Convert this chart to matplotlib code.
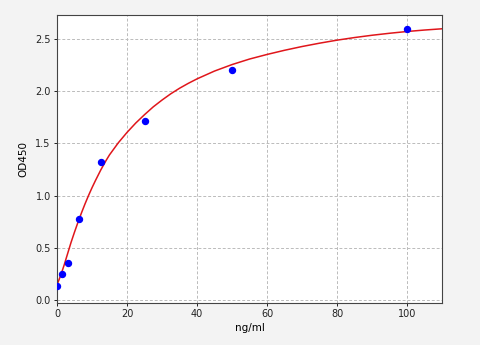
import matplotlib
matplotlib.use("Agg")
import matplotlib.pyplot as plt
from matplotlib.patches import Rectangle

# standard points (concentration, OD)
conc = [0, 1.56, 3.125, 6.25, 12.5, 25, 50, 100]
od = [0.134, 0.246, 0.354, 0.779, 1.325, 1.718, 2.20, 2.60]

# fitted curve
curve_x = [0, 1, 2, 3, 4, 5, 6, 7, 8, 9, 10, 11, 12.5, 14, 15, 17.5, 20,
           22.5, 25, 27.5, 30, 32.5, 35, 37.5, 40, 45, 50, 55, 60, 65, 70,
           75, 80, 85, 90, 95, 100, 105, 110]
curve_y = [0.145, 0.23, 0.33, 0.44, 0.55, 0.65, 0.745, 0.835, 0.92, 1.00,
           1.075, 1.145, 1.245, 1.335, 1.39, 1.505, 1.605, 1.695, 1.775,
           1.85, 1.915, 1.975, 2.028, 2.075, 2.118, 2.193, 2.255, 2.308,
           2.352, 2.392, 2.428, 2.46, 2.489, 2.514, 2.536, 2.555, 2.572,
           2.586, 2.598]

x_ticks = [0, 20, 40, 60, 80, 100]
y_ticks = [0.0, 0.5, 1.0, 1.5, 2.0, 2.5]

fig = plt.figure(figsize=(4.98, 3.45), dpi=100, facecolor="#f3f3f3")
# white strip on the right edge of the image
fig.patches.append(Rectangle((480 / 498, 0), 18 / 498, 1, transform=fig.transFigure,
                             facecolor="white", edgecolor="none", zorder=0))

ax = fig.add_axes([0.1145, 0.1226, 0.7731, 0.8348])
ax.set_facecolor("white")

ax.plot(curve_x, curve_y, color="#e0161b", linewidth=1.1, zorder=2)
ax.plot(conc, od, "o", color="#0000ff", markersize=4.3, zorder=3, clip_on=True)

ax.set_xlim(0, 110)
ax.set_ylim(-0.027, 2.733)
ax.set_xticks(x_ticks)
ax.set_yticks(y_ticks)
ax.set_xticklabels([str(t) for t in x_ticks])
ax.set_yticklabels([f"{t:.1f}" for t in y_ticks])
ax.tick_params(labelsize=7, length=2.5, width=0.7, pad=2, colors="#222222")

ax.set_xlabel("ng/ml", fontsize=7.5, labelpad=3)
ax.set_ylabel("OD450", fontsize=7.5, labelpad=5)

ax.grid(True, linestyle="--", color="#bbbbbb", linewidth=0.7, dashes=(3, 2))
for s in ax.spines.values():
    s.set_color("#444444")
    s.set_linewidth(0.8)

fig.savefig("out.png", dpi=100, facecolor=fig.get_facecolor())
